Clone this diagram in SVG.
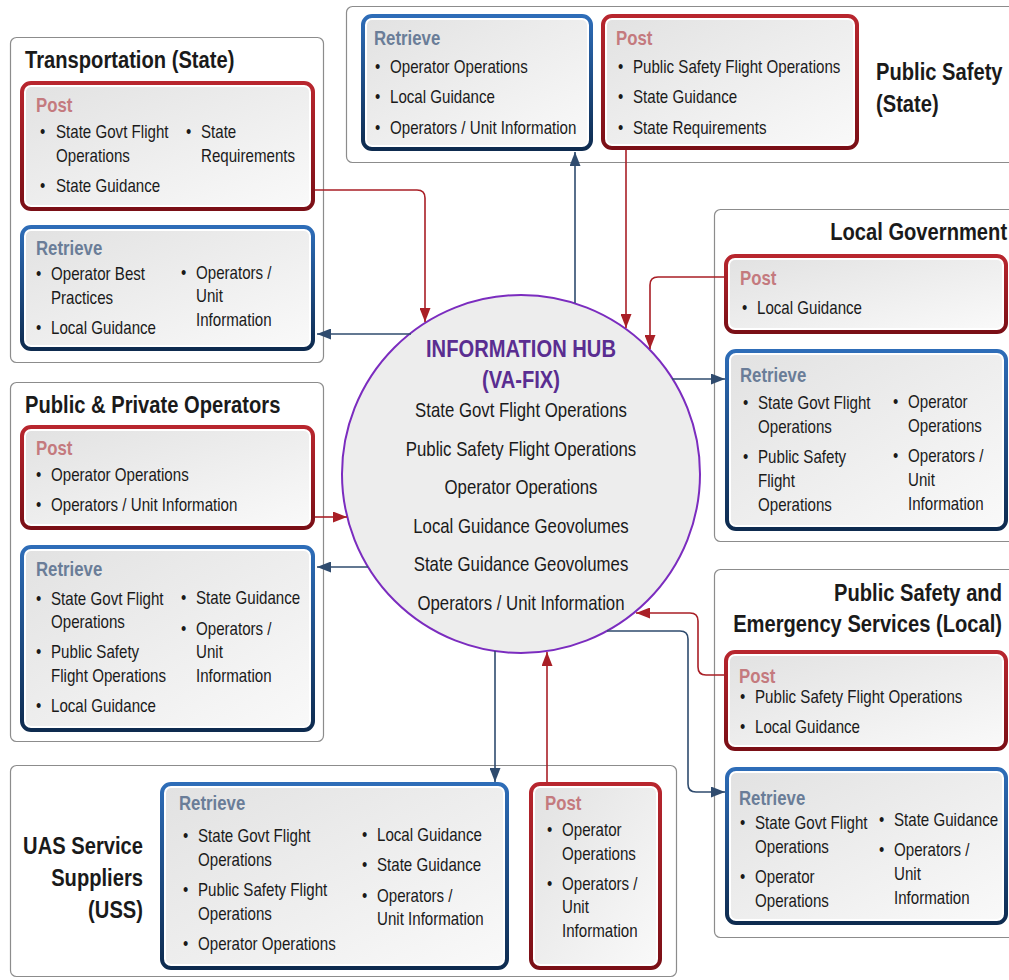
<svg xmlns="http://www.w3.org/2000/svg" width="1009" height="980" viewBox="0 0 1009 980">
<defs>
<linearGradient id="gPost" x1="0" y1="0" x2="0" y2="1"><stop offset="0" stop-color="#B8262E"/><stop offset="1" stop-color="#7A0F16"/></linearGradient>
<linearGradient id="gRet" x1="0" y1="0" x2="0" y2="1"><stop offset="0" stop-color="#2E6DB8"/><stop offset="1" stop-color="#0E2B4F"/></linearGradient>
<linearGradient id="gFill" x1="0" y1="0" x2="1" y2="1"><stop offset="0" stop-color="#E2E2E2"/><stop offset="1" stop-color="#F9F9F9"/></linearGradient>
<marker id="aR" viewBox="0 0 14 11" refX="14" refY="5.5" markerWidth="14" markerHeight="11" markerUnits="userSpaceOnUse" orient="auto"><path d="M0,0 L14,5.5 L0,11 z" fill="#A91F26"/></marker>
<marker id="aB" viewBox="0 0 14 11" refX="14" refY="5.5" markerWidth="14" markerHeight="11" markerUnits="userSpaceOnUse" orient="auto"><path d="M0,0 L14,5.5 L0,11 z" fill="#2F4B6E"/></marker>
</defs>
<style>
text{font-family:"Liberation Sans Narrow","Liberation Sans",Arial,sans-serif;font-size:18px;fill:#1a1a1a;transform-box:fill-box;transform-origin:0% 50%;transform:scaleX(0.84)}
.h{font-weight:bold;font-size:24px;fill:#1a1a1a}
.he{font-weight:bold;font-size:24px;fill:#1a1a1a;text-anchor:end;transform-origin:100% 50%}
.pl{font-weight:bold;font-size:20px;fill:#C47A7E}
.rl{font-weight:bold;font-size:20px;fill:#6A7D98}
.grp{fill:#fff;stroke:#8C8C8C;stroke-width:1.2}
.po{fill:#fff;stroke:url(#gPost);stroke-width:4}
.ro{fill:#fff;stroke:url(#gRet);stroke-width:4}
.in{fill:url(#gFill)}
.hub{fill:#EDEDED;stroke:#7B2CBF;stroke-width:2}
.ht{font-weight:bold;font-size:24px;fill:#5A2D91;text-anchor:middle;transform-origin:50% 50%}
.ct{font-size:20px;text-anchor:middle;transform-origin:50% 50%}
.cr{fill:none;stroke:#A91F26;stroke-width:1.6;marker-end:url(#aR)}
.cb{fill:none;stroke:#2F4B6E;stroke-width:1.6;marker-end:url(#aB)}
</style>
<rect width="1009" height="980" fill="#fff"/>

<g id="hub">
<circle class="hub" cx="521" cy="474" r="179"/>
<text class="ht" x="521" y="357">INFORMATION HUB</text>
<text class="ht" x="521" y="388">(VA-FIX)</text>
<text class="ct" x="521" y="417">State Govt Flight Operations</text>
<text class="ct" x="521" y="456">Public Safety Flight Operations</text>
<text class="ct" x="521" y="494">Operator Operations</text>
<text class="ct" x="521" y="533">Local Guidance Geovolumes</text>
<text class="ct" x="521" y="571">State Guidance Geovolumes</text>
<text class="ct" x="521" y="610">Operators / Unit Information</text>
</g>

<g id="transportation">
<rect class="grp" x="10.5" y="37.5" width="313" height="325" rx="6"/>
<text class="h" x="25" y="68">Transportation (State)</text>
<g id="transportation-post">
<rect class="po" x="22" y="83" width="291" height="126" rx="9"/>
<rect class="in" x="26" y="87" width="283" height="118" rx="5"/>
<text class="pl" x="36" y="112">Post</text>
<text x="40" y="138">•</text><text x="56" y="138">State Govt Flight</text>
<text x="56" y="162">Operations</text>
<text x="40" y="192">•</text><text x="56" y="192">State Guidance</text>
<text x="186" y="138">•</text><text x="201" y="138">State</text>
<text x="201" y="162">Requirements</text>
</g>
<g id="transportation-retrieve">
<rect class="ro" x="22" y="227" width="291" height="122" rx="9"/>
<rect class="in" x="26" y="231" width="283" height="114" rx="5"/>
<text class="rl" x="36" y="255">Retrieve</text>
<text x="36" y="280">•</text><text x="51" y="280">Operator Best</text>
<text x="51" y="304">Practices</text>
<text x="36" y="334">•</text><text x="51" y="334">Local Guidance</text>
<text x="181" y="279">•</text><text x="196" y="279">Operators /</text>
<text x="196" y="302">Unit</text>
<text x="196" y="326">Information</text>
</g>
</g>

<g id="public-safety-state">
<rect class="grp" x="346.5" y="6.5" width="680" height="156" rx="6"/>
<text class="h" x="876" y="80">Public Safety</text>
<text class="h" x="876" y="112">(State)</text>
<g id="pss-retrieve">
<rect class="ro" x="363" y="16" width="228" height="133" rx="9"/>
<rect class="in" x="367" y="20" width="220" height="125" rx="5"/>
<text class="rl" x="374" y="45">Retrieve</text>
<text x="375" y="73">•</text><text x="390" y="73">Operator Operations</text>
<text x="375" y="103">•</text><text x="390" y="103">Local Guidance</text>
<text x="375" y="134">•</text><text x="390" y="134">Operators / Unit Information</text>
</g>
<g id="pss-post">
<rect class="po" x="603" y="16" width="254" height="132" rx="9"/>
<rect class="in" x="607" y="20" width="246" height="124" rx="5"/>
<text class="pl" x="616" y="45">Post</text>
<text x="618" y="73">•</text><text x="633" y="73">Public Safety Flight Operations</text>
<text x="618" y="103">•</text><text x="633" y="103">State Guidance</text>
<text x="618" y="134">•</text><text x="633" y="134">State Requirements</text>
</g>
</g>

<g id="local-government">
<rect class="grp" x="714.5" y="209.5" width="310" height="332" rx="6"/>
<text class="he" x="1007" y="240">Local Government</text>
<g id="lg-post">
<rect class="po" x="726" y="256" width="280" height="76" rx="9"/>
<rect class="in" x="730" y="260" width="272" height="68" rx="5"/>
<text class="pl" x="740" y="285">Post</text>
<text x="742" y="314">•</text><text x="757" y="314">Local Guidance</text>
</g>
<g id="lg-retrieve">
<rect class="ro" x="727" y="351" width="279" height="178" rx="9"/>
<rect class="in" x="731" y="355" width="271" height="170" rx="5"/>
<text class="rl" x="740" y="382">Retrieve</text>
<text x="743" y="409">•</text><text x="758" y="409">State Govt Flight</text>
<text x="758" y="433">Operations</text>
<text x="743" y="463">•</text><text x="758" y="463">Public Safety</text>
<text x="758" y="487">Flight</text>
<text x="758" y="511">Operations</text>
<text x="893" y="408">•</text><text x="908" y="408">Operator</text>
<text x="908" y="432">Operations</text>
<text x="893" y="462">•</text><text x="908" y="462">Operators /</text>
<text x="908" y="486">Unit</text>
<text x="908" y="510">Information</text>
</g>
</g>

<g id="public-private-operators">
<rect class="grp" x="10.5" y="382.5" width="313" height="359" rx="6"/>
<text class="h" x="25" y="413">Public &amp; Private Operators</text>
<g id="ppo-post">
<rect class="po" x="22" y="427" width="291" height="101" rx="9"/>
<rect class="in" x="26" y="431" width="283" height="93" rx="5"/>
<text class="pl" x="36" y="455">Post</text>
<text x="36" y="481">•</text><text x="51" y="481">Operator Operations</text>
<text x="36" y="511">•</text><text x="51" y="511">Operators / Unit Information</text>
</g>
<g id="ppo-retrieve">
<rect class="ro" x="22" y="547" width="291" height="183" rx="9"/>
<rect class="in" x="26" y="551" width="283" height="175" rx="5"/>
<text class="rl" x="36" y="576">Retrieve</text>
<text x="36" y="605">•</text><text x="51" y="605">State Govt Flight</text>
<text x="51" y="628">Operations</text>
<text x="36" y="658">•</text><text x="51" y="658">Public Safety</text>
<text x="51" y="682">Flight Operations</text>
<text x="36" y="712">•</text><text x="51" y="712">Local Guidance</text>
<text x="181" y="604">•</text><text x="196" y="604">State Guidance</text>
<text x="181" y="635">•</text><text x="196" y="635">Operators /</text>
<text x="196" y="658">Unit</text>
<text x="196" y="682">Information</text>
</g>
</g>

<g id="public-safety-emergency-local">
<rect class="grp" x="714.5" y="569.5" width="310" height="368" rx="6"/>
<text class="he" x="1002" y="601">Public Safety and</text>
<text class="he" x="1002" y="632">Emergency Services (Local)</text>
<g id="pse-post">
<rect class="po" x="726" y="652" width="280" height="97" rx="9"/>
<rect class="in" x="730" y="656" width="272" height="89" rx="5"/>
<text class="pl" x="739" y="683">Post</text>
<text x="740" y="703">•</text><text x="755" y="703">Public Safety Flight Operations</text>
<text x="740" y="733">•</text><text x="755" y="733">Local Guidance</text>
</g>
<g id="pse-retrieve">
<rect class="ro" x="727" y="769" width="279" height="154" rx="9"/>
<rect class="in" x="731" y="773" width="271" height="146" rx="5"/>
<text class="rl" x="739" y="805">Retrieve</text>
<text x="740" y="829">•</text><text x="755" y="829">State Govt Flight</text>
<text x="755" y="853">Operations</text>
<text x="740" y="883">•</text><text x="755" y="883">Operator</text>
<text x="755" y="907">Operations</text>
<text x="879" y="826">•</text><text x="894" y="826">State Guidance</text>
<text x="879" y="856">•</text><text x="894" y="856">Operators /</text>
<text x="894" y="880">Unit</text>
<text x="894" y="904">Information</text>
</g>
</g>

<g id="uas-service-suppliers">
<rect class="grp" x="10.5" y="765.5" width="666" height="211" rx="6"/>
<text class="he" x="143" y="854">UAS Service</text>
<text class="he" x="143" y="886">Suppliers</text>
<text class="he" x="143" y="918">(USS)</text>
<g id="uss-retrieve">
<rect class="ro" x="162" y="784" width="345" height="184" rx="9"/>
<rect class="in" x="166" y="788" width="337" height="176" rx="5"/>
<text class="rl" x="179" y="810">Retrieve</text>
<text x="183" y="842">•</text><text x="198" y="842">State Govt Flight</text>
<text x="198" y="866">Operations</text>
<text x="183" y="896">•</text><text x="198" y="896">Public Safety Flight</text>
<text x="198" y="920">Operations</text>
<text x="183" y="950">•</text><text x="198" y="950">Operator Operations</text>
<text x="362" y="841">•</text><text x="377" y="841">Local Guidance</text>
<text x="362" y="871">•</text><text x="377" y="871">State Guidance</text>
<text x="362" y="902">•</text><text x="377" y="902">Operators /</text>
<text x="377" y="925">Unit Information</text>
</g>
<g id="uss-post">
<rect class="po" x="531" y="784" width="129" height="184" rx="9"/>
<rect class="in" x="535" y="788" width="121" height="176" rx="5"/>
<text class="pl" x="545" y="810">Post</text>
<text x="547" y="836">•</text><text x="562" y="836">Operator</text>
<text x="562" y="860">Operations</text>
<text x="547" y="890">•</text><text x="562" y="890">Operators /</text>
<text x="562" y="913">Unit</text>
<text x="562" y="937">Information</text>
</g>
</g>

<g id="connectors">
<path class="cr" d="M315,190 H417 Q425,190 425,198 V322"/>
<path class="cb" d="M411,334 H317"/>
<path class="cb" d="M575,303 V152"/>
<path class="cr" d="M626,150 V328"/>
<path class="cr" d="M724,277 H658 Q650,277 650,285 V349"/>
<path class="cb" d="M672,379 H725"/>
<path class="cr" d="M315,517 H347"/>
<path class="cb" d="M368,567 H317"/>
<path class="cr" d="M724,675 H706 Q698,675 698,667 V621 Q698,613 690,613 H636"/>
<path class="cb" d="M607,631 H680 Q688,631 688,639 V784 Q688,792 696,792 H725"/>
<path class="cb" d="M495,651 V782"/>
<path class="cr" d="M547,782 V652"/>
</g>
</svg>
